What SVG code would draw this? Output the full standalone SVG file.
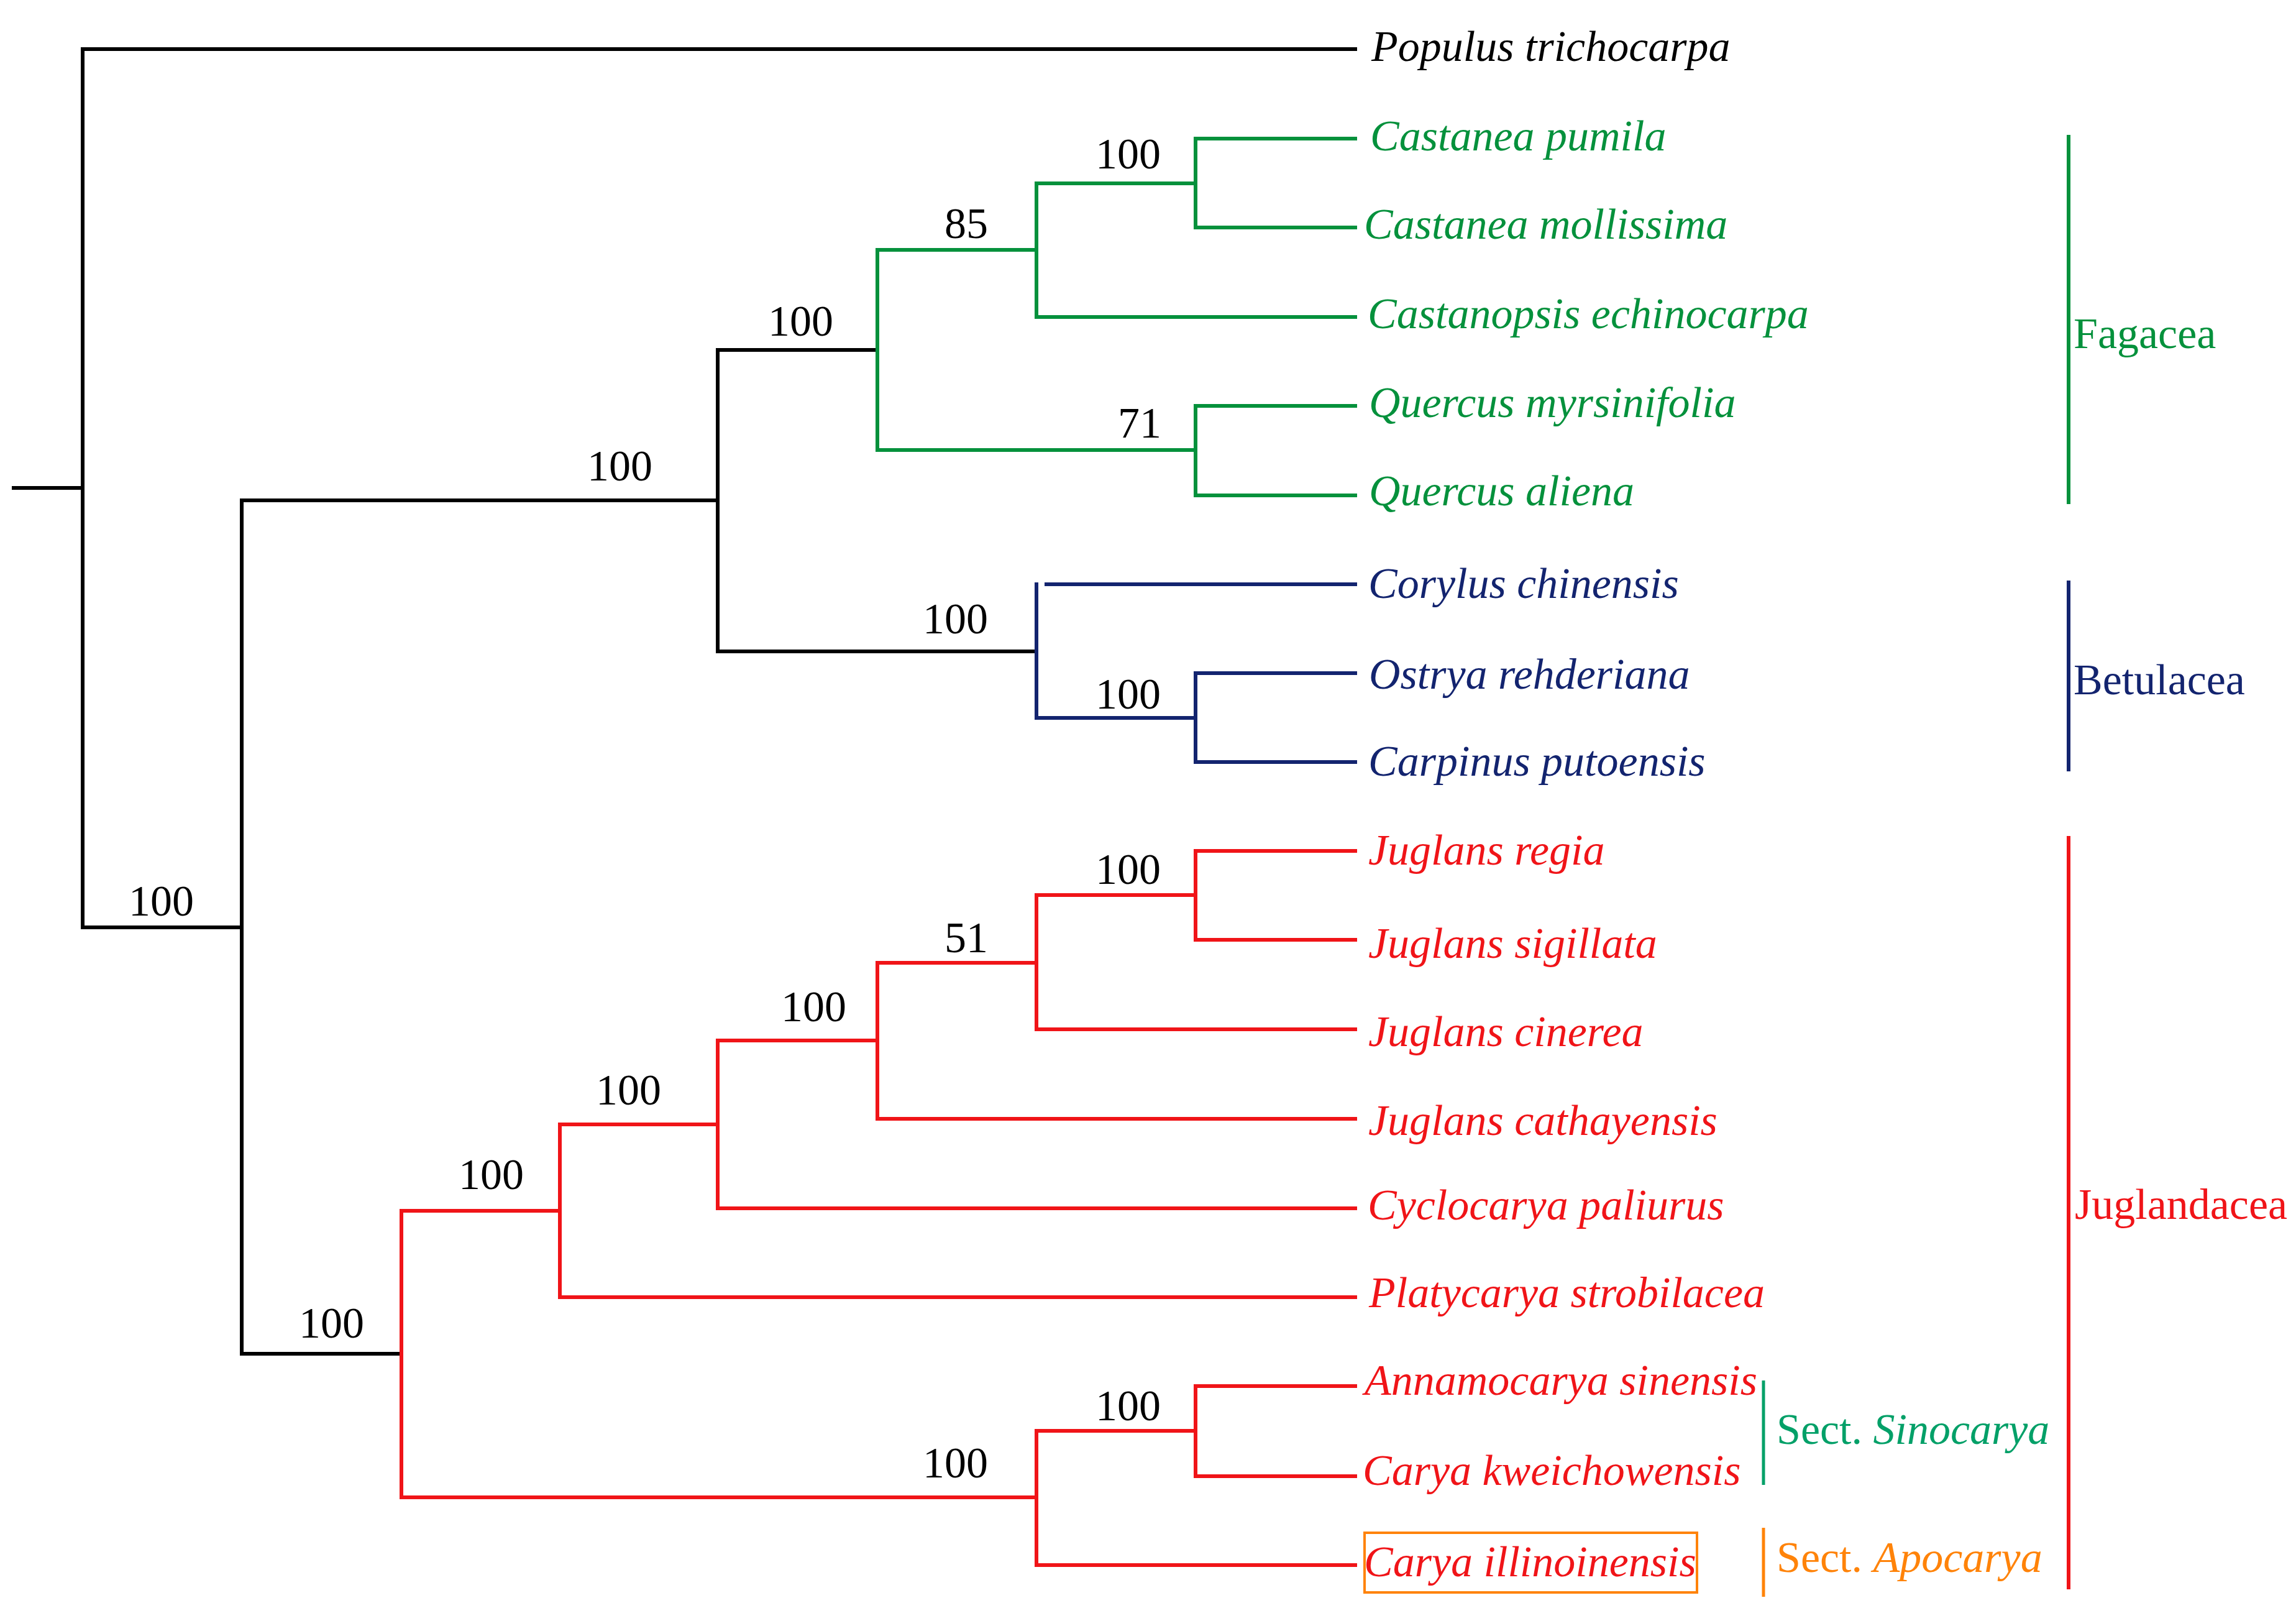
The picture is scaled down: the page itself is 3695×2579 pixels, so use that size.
<svg xmlns="http://www.w3.org/2000/svg" width="3695" height="2579" viewBox="0 0 3695 2579">
<style>
  .br { fill: none; stroke-width: 6; stroke-linejoin: miter; stroke-linecap: butt; }
  .k { stroke: #000000; }
  .g { stroke: #05913c; }
  .b { stroke: #13246f; }
  .r { stroke: #f01418; }
  .t { stroke: #03a068; }
  .o { stroke: #ff8309; }
  text { font-family: "Liberation Serif", "Times New Roman", serif; font-size: 70px; }
  .sp { font-style: italic; }
  .bs { fill: #000000; }
  .fk { fill: #000000; }
  .fg { fill: #05913c; }
  .fb { fill: #13246f; }
  .fr { fill: #f01418; }
  .ft { fill: #03a068; }
  .fo { fill: #ff8309; }
</style>
<rect x="0" y="0" width="3695" height="2579" fill="#ffffff"/>

<g id="connectors">
  <!-- root -->
  <path class="br k" d="M19,785 H133"/>
  <path class="br k" d="M2184,79 H133 V1492 H389"/>
  <path class="br k" d="M1155,805 H389 V2178 H646"/>
  <path class="br k" d="M1412,563 H1155 V1048 H1668"/>
  <!-- Fagaceae -->
  <path class="br g" d="M1668,402 H1412 V724 H1924"/>
  <path class="br g" d="M1924,295 H1668 V510 H2184"/>
  <path class="br g" d="M2184,223 H1924 V366 H2184"/>
  <path class="br g" d="M2184,653 H1924 V797 H2184"/>
  <!-- Betulaceae -->
  <path class="br b" d="M1668,937 V1155 H1924"/>
  <path class="br b" d="M1681,940 H2184"/>
  <path class="br b" d="M2184,1083 H1924 V1226 H2184"/>
  <!-- Juglandaceae -->
  <path class="br r" d="M901,1948 H646 V2409 H1668"/>
  <path class="br r" d="M1155,1809 H901 V2087 H2184"/>
  <path class="br r" d="M1412,1674 H1155 V1944 H2184"/>
  <path class="br r" d="M1668,1549 H1412 V1800 H2184"/>
  <path class="br r" d="M1924,1440 H1668 V1656 H2184"/>
  <path class="br r" d="M2184,1369 H1924 V1512 H2184"/>
  <path class="br r" d="M1924,2302 H1668 V2518 H2184"/>
  <path class="br r" d="M2184,2230 H1924 V2375 H2184"/>
  <!-- clade bars -->
  <path class="br g" d="M3329,217 V811"/>
  <path class="br b" d="M3329,934 V1241"/>
  <path class="br r" d="M3329,1345 V2557"/>
  <path class="br t" d="M2838,2221 V2389" style="stroke-width:5"/>
  <path class="br o" d="M2838,2458 V2569" style="stroke-width:5"/>
</g>

<g id="leaves">
  <g id="leaf-populus"><text class="sp fk" x="2207" y="98">Populus trichocarpa</text></g>
  <g id="leaf-castanea-pumila"><text class="sp fg" x="2205" y="242">Castanea pumila</text></g>
  <g id="leaf-castanea-mollissima"><text class="sp fg" x="2195" y="384">Castanea mollissima</text></g>
  <g id="leaf-castanopsis"><text class="sp fg" x="2201" y="528">Castanopsis echinocarpa</text></g>
  <g id="leaf-quercus-myrsinifolia"><text class="sp fg" x="2203" y="671">Quercus myrsinifolia</text></g>
  <g id="leaf-quercus-aliena"><text class="sp fg" x="2203" y="813">Quercus aliena</text></g>
  <g id="leaf-corylus"><text class="sp fb" x="2202" y="962">Corylus chinensis</text></g>
  <g id="leaf-ostrya"><text class="sp fb" x="2203" y="1108">Ostrya rehderiana</text></g>
  <g id="leaf-carpinus"><text class="sp fb" x="2202" y="1248">Carpinus putoensis</text></g>
  <g id="leaf-juglans-regia"><text class="sp fr" x="2202" y="1391">Juglans regia</text></g>
  <g id="leaf-juglans-sigillata"><text class="sp fr" x="2202" y="1541">Juglans sigillata</text></g>
  <g id="leaf-juglans-cinerea"><text class="sp fr" x="2202" y="1683">Juglans cinerea</text></g>
  <g id="leaf-juglans-cathayensis"><text class="sp fr" x="2202" y="1826">Juglans cathayensis</text></g>
  <g id="leaf-cyclocarya"><text class="sp fr" x="2201" y="1962">Cyclocarya paliurus</text></g>
  <g id="leaf-platycarya"><text class="sp fr" x="2203" y="2103">Platycarya strobilacea</text></g>
  <g id="leaf-annamocarya"><text class="sp fr" x="2196" y="2244">Annamocarya sinensis</text></g>
  <g id="leaf-carya-kweichowensis"><text class="sp fr" x="2193" y="2389">Carya kweichowensis</text></g>
  <g id="leaf-carya-illinoinensis">
    <rect x="2196" y="2466" width="535" height="96" fill="none" stroke="#ff8309" stroke-width="4"/>
    <text class="sp fr" x="2195" y="2536">Carya illinoinensis</text>
  </g>
</g>

<g id="bootstrap">
  <g id="bs-1"><text class="bs" x="945" y="773">100</text></g>
  <g id="bs-2"><text class="bs" x="1236" y="540">100</text></g>
  <g id="bs-3"><text class="bs" x="1520" y="383">85</text></g>
  <g id="bs-4"><text class="bs" x="1763" y="271">100</text></g>
  <g id="bs-5"><text class="bs" x="1799" y="704">71</text></g>
  <g id="bs-6"><text class="bs" x="1485" y="1019">100</text></g>
  <g id="bs-7"><text class="bs" x="1763" y="1140">100</text></g>
  <g id="bs-8"><text class="bs" x="207" y="1473">100</text></g>
  <g id="bs-9"><text class="bs" x="481" y="2152">100</text></g>
  <g id="bs-10"><text class="bs" x="738" y="1913">100</text></g>
  <g id="bs-11"><text class="bs" x="959" y="1777">100</text></g>
  <g id="bs-12"><text class="bs" x="1257" y="1643">100</text></g>
  <g id="bs-13"><text class="bs" x="1520" y="1532">51</text></g>
  <g id="bs-14"><text class="bs" x="1763" y="1422">100</text></g>
  <g id="bs-15"><text class="bs" x="1763" y="2285">100</text></g>
  <g id="bs-16"><text class="bs" x="1485" y="2377">100</text></g>
</g>

<g id="clades">
  <g id="clade-fagacea"><text class="fg" x="3337" y="560">Fagacea</text></g>
  <g id="clade-betulacea"><text class="fb" x="3337" y="1117">Betulacea</text></g>
  <g id="clade-juglandacea"><text class="fr" x="3339" y="1961">Juglandacea</text></g>
  <g id="sect-sinocarya"><text class="ft" x="2859" y="2323">Sect. <tspan class="sp">Sinocarya</tspan></text></g>
  <g id="sect-apocarya"><text class="fo" x="2859" y="2529">Sect. <tspan class="sp">Apocarya</tspan></text></g>
</g>
</svg>
